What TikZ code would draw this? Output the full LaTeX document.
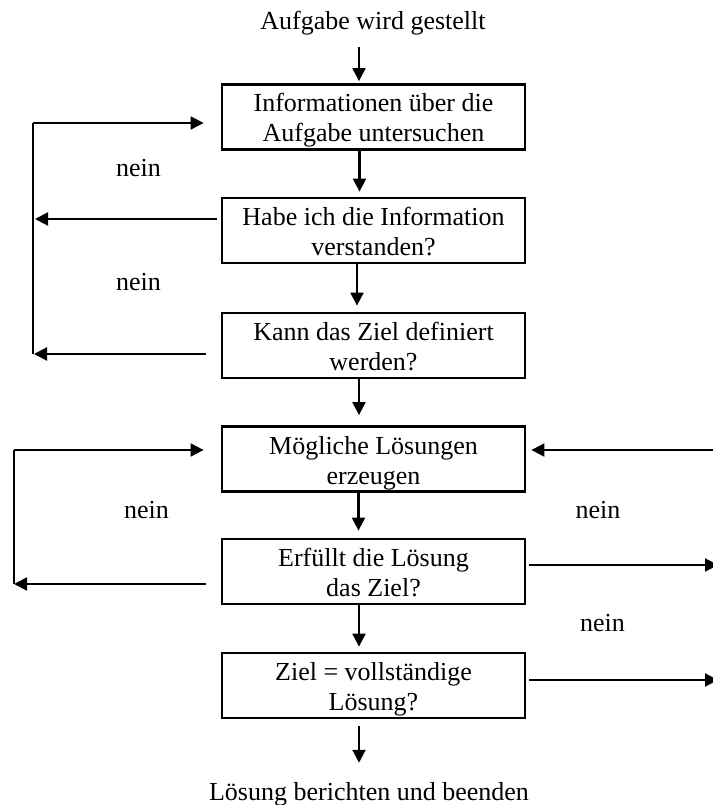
\documentclass[tikz,border=0pt]{standalone}
\usepackage{fontspec}
\setmainfont{Liberation Serif}
\usetikzlibrary{arrows.meta,calc}

% two-line box text with fixed room above the first and below the last baseline
\newcommand{\boxlines}[2]{\rule{0pt}{27pt}#1\\#2\rule[-7pt]{0pt}{7pt}}

\begin{document}
\begin{tikzpicture}[x=1pt,y=-1pt,
  every node/.style={font=\fontsize{26}{30}\selectfont, inner sep=0pt},
  stepbox/.style={draw, line width=2.8pt, minimum width=303pt, minimum height=65pt, align=center},
  label/.style={},
  conn/.style={line width=2.1pt},
  arr/.style={conn, -{Triangle[length=13pt,width=13pt]}}
]
\useasboundingbox (0,0) rectangle (712,805);

% start and end texts
\node[anchor=base] (start) at (373,30) {Aufgabe wird gestellt};
\node[anchor=base] (finish) at (369,800) {Lösung berichten und beenden};

% process boxes
\node[stepbox] (b1) at (373.5,117)   {\boxlines{Informationen über die}{Aufgabe untersuchen}};
\node[stepbox] (b2) at (373.5,230.5) {\boxlines{Habe ich die Information}{verstanden?}};
\node[stepbox] (b3) at (373.5,345.5) {\boxlines{Kann das Ziel definiert}{werden?}};
\node[stepbox] (b4) at (373.5,459)   {\boxlines{Mögliche Lösungen}{erzeugen}};
\node[stepbox] (b5) at (373.5,571.5) {\boxlines{Erfüllt die Lösung}{das Ziel?}};
\node[stepbox] (b6) at (373.5,685.5) {\boxlines{Ziel = vollständige}{Lösung?}};

% main flow downwards
\draw[arr, shorten <=11pt, shorten >=2pt] ([xshift=-14pt]start.south) -- ([xshift=-14.5pt]b1.north);
\draw[arr, shorten >=5pt]  ([xshift=-14pt]b1.south) -- ([xshift=-14pt]b2.north);
\draw[arr, shorten >=6pt]  ([xshift=-16.5pt]b2.south) -- ([xshift=-16.5pt]b3.north);
\draw[arr, shorten >=10pt] ([xshift=-14.5pt]b3.south) -- ([xshift=-14.5pt]b4.north);
\draw[arr, shorten >=7pt]  ([xshift=-15pt]b4.south) -- ([xshift=-15pt]b5.north);
\draw[arr, shorten >=5pt]  ([xshift=-14.5pt]b5.south) -- ([xshift=-14.5pt]b6.north);
\draw[arr, shorten <=7pt, shorten >=19pt] ([xshift=-14.5pt]b6.south) -- ([xshift=-10pt]finish.north);

% first loop on the left
\coordinate (i1) at ([yshift=-6pt]b1.west);
\coordinate (o2) at ([yshift=11.5pt]b2.west);
\coordinate (o3) at ([yshift=-8.5pt]b3.west);
\coordinate (l1t) at (33,123);
\coordinate (l1b) at (o3 -| l1t);
\draw[arr, shorten >=1pt] (o3) ++(-15pt,0) -- (l1b);
\draw[conn] (l1b) -- (l1t);
\draw[arr, shorten >=17pt] (l1t) -- (i1);
\draw[arr, shorten <=4pt, shorten >=2pt] (o2) -- (o2 -| l1t);
\node[label] (n1) at (138.5,168) {nein};
\node[label] (n2) at (138.5,282) {nein};

% second loop on the left
\coordinate (i4) at ([yshift=9pt]b4.west);
\coordinate (o5) at ([yshift=-12.5pt]b5.west);
\coordinate (l2t) at (14,450);
\coordinate (l2b) at (o5 -| l2t);
\draw[arr, shorten <=15pt, shorten >=0pt] (o5) -- (l2b);
\draw[conn] (l2b) -- (l2t);
\draw[arr, shorten >=17pt] (l2t) -- (i4);
\node[label] (n3) at (146.5,510) {nein};

% connectors leaving at the right edge
\coordinate (r4) at (724,450);
\coordinate (r5) at (718,565);
\coordinate (r6) at (718,680);
\draw[arr, shorten >=5pt] (r4) -- (r4 -| b4.east);
\draw[arr, shorten <=3pt] (r5 -| b5.east) -- (r5);
\draw[arr, shorten <=3pt] (r6 -| b6.east) -- (r6);
\node[label] (n4) at (598,510) {nein};
\node[label] (n5) at (602.5,623) {nein};
\end{tikzpicture}
\end{document}
